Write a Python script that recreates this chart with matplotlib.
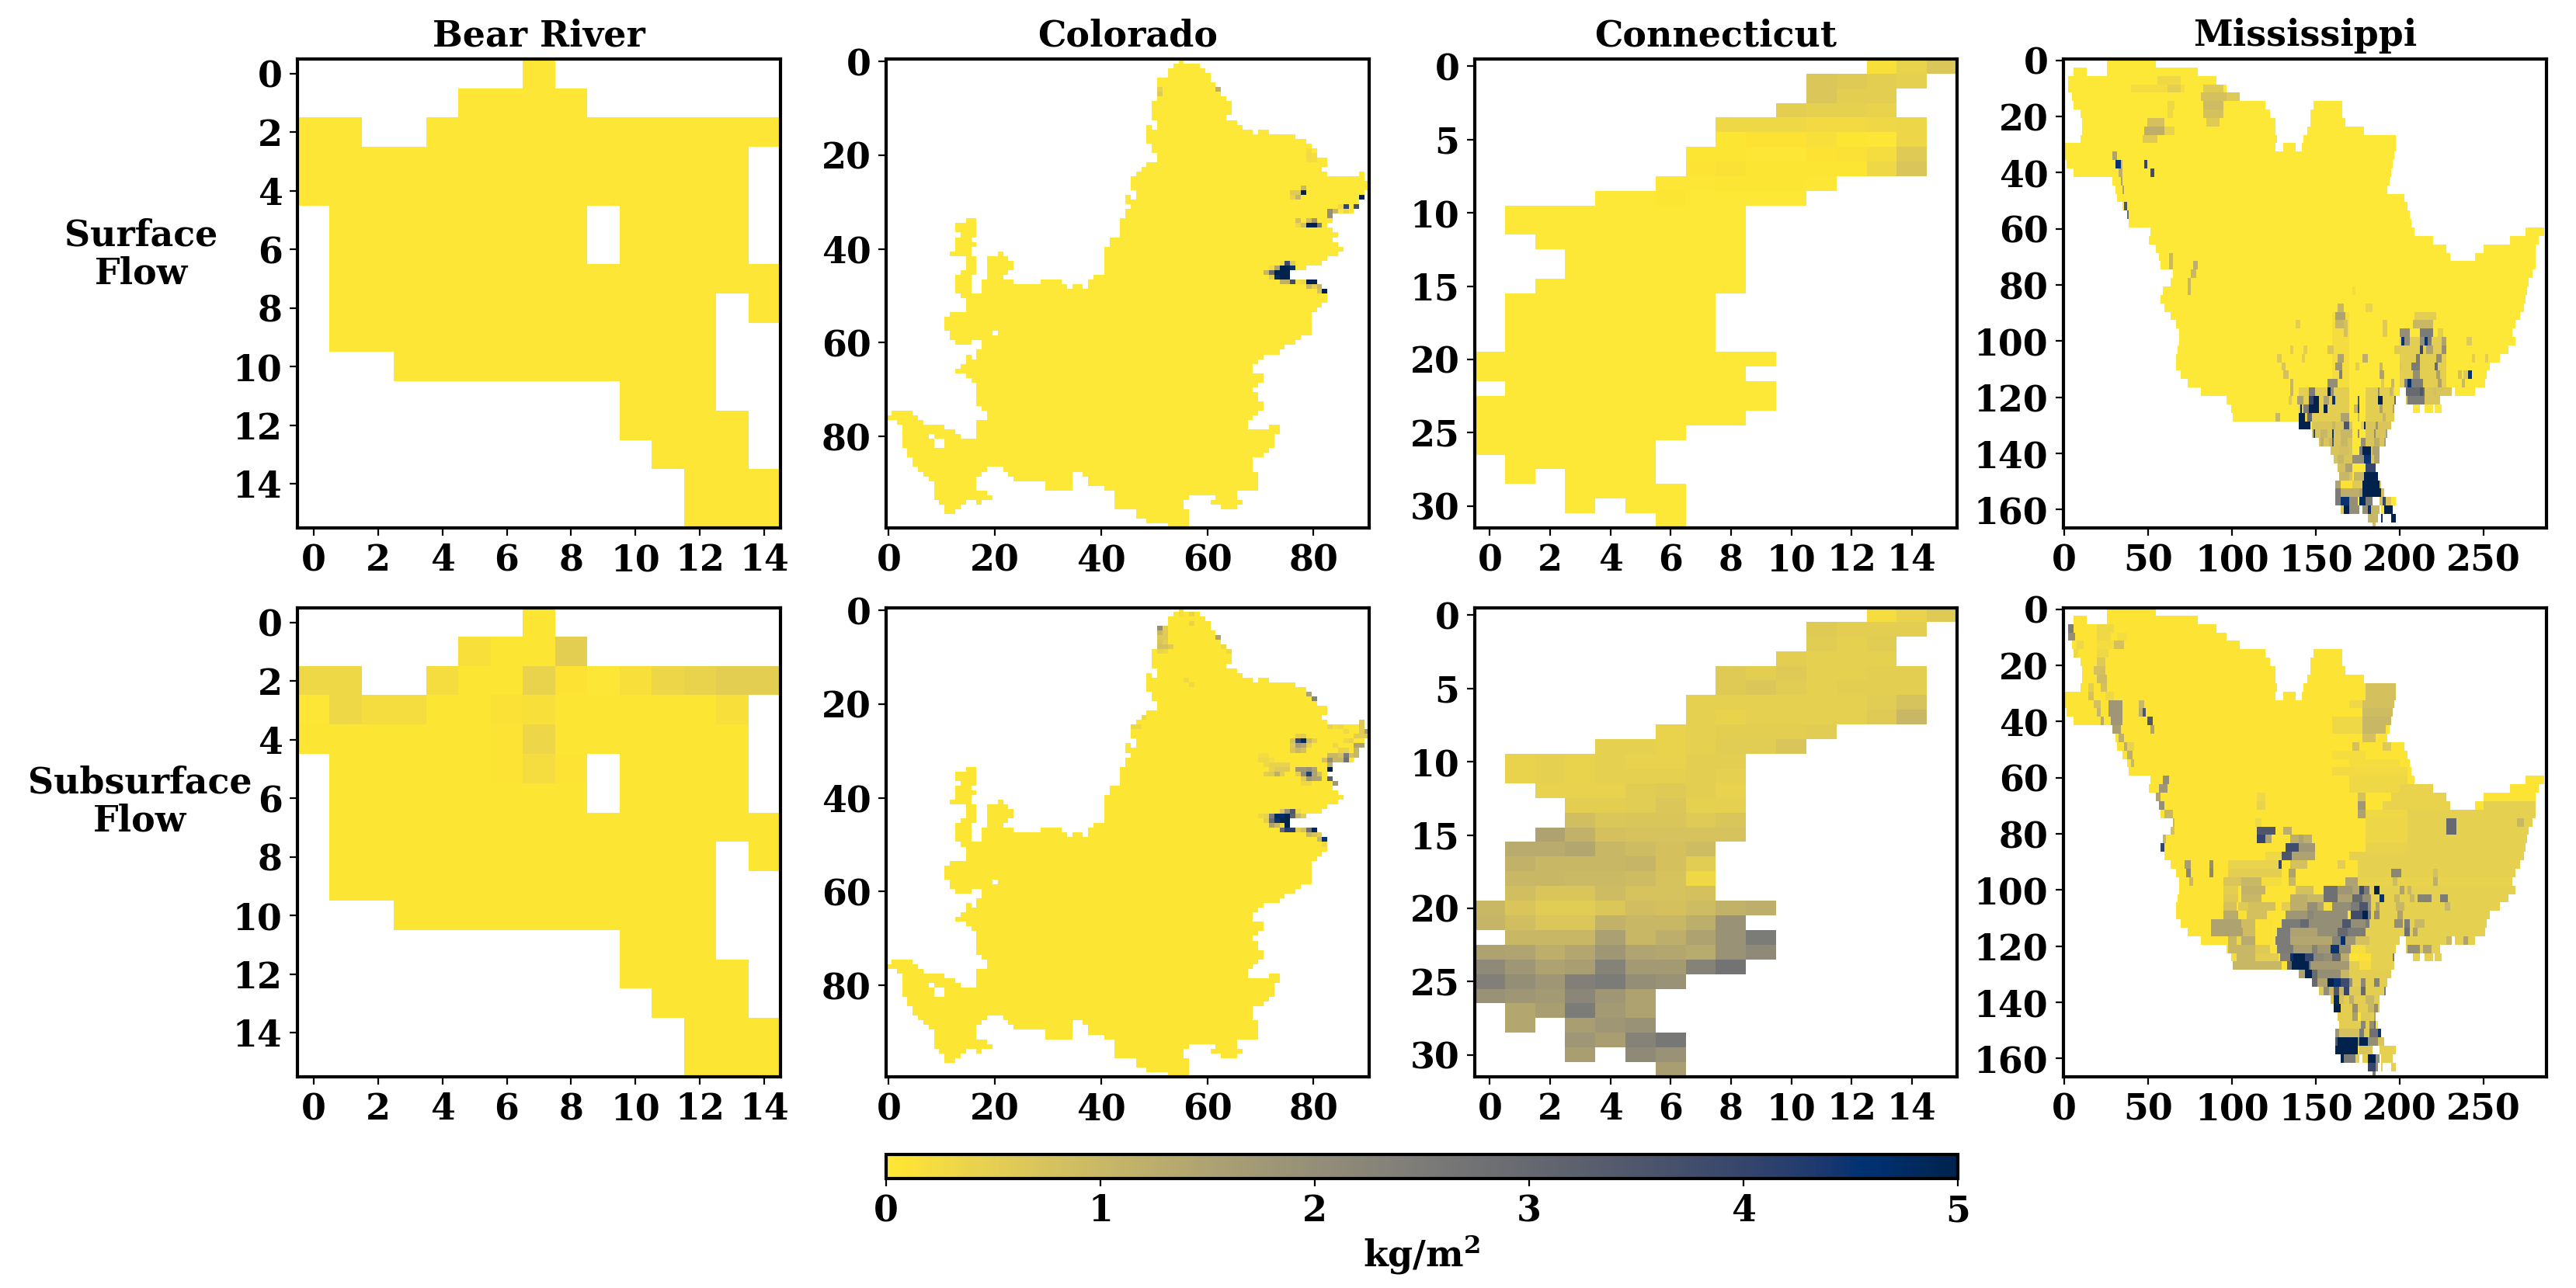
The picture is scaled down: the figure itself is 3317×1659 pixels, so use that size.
import numpy as np
import matplotlib
matplotlib.use("Agg")
import matplotlib.pyplot as plt

plt.rcParams['font.family'] = ['DejaVu Serif']
plt.rcParams['font.weight'] = 'bold'
plt.rcParams['mathtext.fontset'] = 'dejavuserif'

# --- Bear River (16 x 15): cells with data per row as (first col, end col)
BEAR_RUNS = [
    [(7, 8)], [(5, 9)], [(0, 2), (4, 15)], [(0, 14)], [(0, 14)],
    [(1, 9), (10, 14)], [(1, 9), (10, 14)], [(1, 15)],
    [(1, 13), (14, 15)], [(1, 13)], [(3, 13)], [(10, 13)],
    [(10, 14)], [(11, 14)], [(12, 15)], [(12, 15)],
]
# (row, col, value)
BEAR_SUB_CELLS = [
    (1, 5, .15), (1, 6, .05), (1, 7, .05), (1, 8, .5),
    (2, 0, .3), (2, 1, .3), (2, 4, .2), (2, 5, .05), (2, 6, .05), (2, 7, .4), (2, 8, .08),
    (2, 9, .02), (2, 10, .15), (2, 11, .35), (2, 12, .4), (2, 13, .5), (2, 14, .5),
    (3, 0, .03), (3, 1, .3), (3, 2, .2), (3, 3, .2), (3, 4, .05), (3, 5, .05), (3, 6, .1),
    (3, 7, .15), (3, 8, .05), (3, 12, .05), (3, 13, .15),
    (4, 6, .06), (4, 7, .35), (4, 8, .05), (5, 6, .06), (5, 7, .2), (5, 8, .07),
]

# --- Colorado (100 x 91)
COLORADO_RUNS = [
    [(55, 56)], [(54, 59)], [(53, 60)], [(53, 61)], [(51, 61)], [(51, 62)], [(51, 63)], [(51, 63)],
    [(51, 64)], [(50, 65)], [(50, 65)], [(50, 65)], [(50, 64)], [(51, 66)],
    [(49, 50), (51, 67)], [(49, 69), (70, 72)], [(49, 77)], [(49, 79)], [(50, 80)], [(50, 81)],
    [(51, 81)], [(51, 83)], [(49, 83)], [(48, 82)], [(47, 83), (89, 90)], [(46, 90)], [(46, 91)],
    [(46, 91)], [(47, 90)], [(45, 46), (47, 90)], [(45, 89)], [(46, 89)], [(45, 88)], [(45, 84)],
    [(15, 17), (44, 84)], [(13, 17), (44, 83)], [(13, 17), (44, 84)], [(14, 17), (44, 85)],
    [(13, 16), (42, 84)], [(13, 17), (42, 85)], [(13, 16), (41, 86)],
    [(12, 16), (21, 22), (41, 85)], [(15, 17), (19, 23), (41, 83)], [(15, 17), (19, 24), (41, 82)],
    [(15, 17), (19, 24), (41, 79)], [(14, 17), (19, 23), (41, 76)], [(13, 16), (19, 22), (39, 76)],
    [(13, 16), (18, 24), (29, 32), (32, 33), (38, 81)], [(13, 16), (18, 34), (35, 37), (38, 82)],
    [(13, 16), (18, 83)], [(14, 83)], [(15, 83)], [(15, 82)], [(15, 81)], [(12, 80)], [(11, 80)],
    [(11, 80)], [(11, 80)], [(12, 20), (21, 80)], [(12, 78)], [(13, 16), (18, 77)], [(18, 75)],
    [(17, 74)], [(15, 16), (17, 71)], [(15, 70)], [(14, 69)], [(13, 69)], [(15, 71)], [(16, 71)],
    [(17, 70)], [(17, 69)], [(17, 70)], [(17, 70)], [(17, 71)], [(18, 71)],
    [(1, 5), (19, 70)], [(0, 6), (19, 69)], [(2, 7), (17, 68)], [(3, 11), (17, 68), (72, 74)],
    [(3, 13), (17, 74)], [(3, 8), (9, 14), (17, 73)], [(3, 9), (11, 73)], [(3, 9), (11, 73)],
    [(4, 72)], [(4, 71)], [(5, 69)], [(5, 69)], [(6, 19), (22, 69)],
    [(7, 18), (23, 35), (37, 70)], [(8, 17), (24, 35), (38, 70)], [(9, 17), (30, 35), (38, 70)],
    [(9, 17), (30, 35), (41, 70)], [(9, 19), (43, 66)], [(9, 20), (43, 57), (62, 66)],
    [(10, 15), (17, 18), (43, 56), (61, 67)], [(11, 14), (43, 56), (63, 66)],
    [(11, 13), (47, 57)], [(47, 57)], [(49, 57)], [(53, 57)],
]
COLORADO_SURF_CELLS = [
    (6, 51, .4), (7, 51, .6), (6, 62, 1.2),
    (19, 79, .2), (20, 79, .25), (20, 80, .2), (21, 79, .2), (21, 80, .2),
    (27, 78, 1.), (28, 76, .6), (28, 77, .6), (28, 78, 5.), (29, 76, .4), (29, 77, 1.), (29, 89, 5.),
    (31, 86, 4.), (31, 88, 3.8), (31, 85, .3), (32, 83, 2.), (32, 84, 1.), (32, 86, .3), (33, 83, 2.),
    (34, 77, .8), (34, 79, .8), (34, 80, 1.8), (35, 77, .3), (35, 78, .8), (35, 79, 5.), (35, 80, 5.),
    (35, 81, 2.5), (43, 74, .2), (43, 75, 3.8), (43, 76, .6),
    (44, 72, .2), (44, 73, 1.5), (44, 74, 5.), (44, 75, 5.), (44, 76, 4.5),
    (45, 71, 1.), (45, 72, 3.), (45, 73, 5.), (45, 74, 5.), (45, 75, 5.),
    (46, 72, .5), (46, 73, 4.7), (46, 74, 5.), (46, 75, 5.),
    (47, 74, 1.2), (47, 75, 1.2), (47, 76, 3.8), (47, 77, .2), (47, 78, .3), (47, 79, 5.), (47, 80, 5.),
    (48, 79, 1.), (48, 80, .5), (48, 81, 1.), (49, 81, .8), (49, 82, 5.),
]
COLORADO_SUB_CELLS = [
    (1, 55, .2), (1, 57, .4), (3, 57, .4), (4, 51, 2.), (4, 52, .5), (5, 51, 1.), (5, 52, .6),
    (6, 51, .6), (6, 52, .6), (6, 62, 1.5), (7, 51, .7), (7, 52, .5),
    (8, 51, .8), (8, 52, .8), (8, 53, .6), (8, 63, .3), (9, 51, .4), (9, 52, .3), (9, 64, .3),
    (15, 56, .3), (16, 57, .3), (18, 79, 1.5), (19, 80, 2.3), (21, 83, 2.5), (22, 83, 1.8), (22, 48, .3),
    (23, 47, .3), (23, 48, .3), (24, 83, 3.), (24, 89, .6), (24, 46, .3), (25, 46, .3), (25, 47, .3),
    (25, 83, .4), (25, 84, .2), (25, 85, .3), (25, 89, .6), (26, 89, .6), (26, 90, 1.5), (26, 86, .3),
    (27, 88, .5), (27, 89, .5), (27, 90, .6), (27, 77, .5), (27, 78, .6),
    (28, 76, .8), (28, 77, 4.), (28, 78, 4.8), (28, 79, 1.), (28, 80, .5), (28, 86, .3), (28, 87, .4),
    (29, 76, .6), (29, 77, 1.6), (29, 78, 1.4), (29, 79, .4), (29, 84, .3), (29, 88, 1.5), (29, 89, 1.5),
    (30, 76, .7), (30, 77, 1.), (30, 78, .8), (30, 85, .4), (30, 86, .4), (30, 88, 1.), (30, 89, .6),
    (31, 70, .2), (31, 71, .2), (31, 83, 1.), (31, 84, 1.), (31, 85, .8), (31, 86, 2.5), (31, 87, .8), (31, 88, 1.),
    (32, 70, .3), (32, 71, .3), (32, 72, .2), (32, 82, .8), (32, 83, 2.), (32, 84, 1.), (32, 85, 1.), (32, 86, 2.8),
    (33, 71, .3), (33, 72, .4), (33, 73, .4), (33, 74, .4), (33, 75, .4), (33, 83, 1.2),
    (34, 72, .4), (34, 73, .6), (34, 74, .6), (34, 75, .6), (34, 77, 1.8), (34, 78, 1.8), (34, 79, 2.), (34, 80, 1.5), (34, 83, 5.),
    (35, 71, .5), (35, 72, .6), (35, 73, 1.2), (35, 74, .5), (35, 77, .5), (35, 78, 2.), (35, 79, 4.2), (35, 80, 1.5), (35, 81, .8),
    (36, 78, .6), (36, 79, 1.8), (36, 80, 1.5), (36, 81, 1.5), (36, 83, 3.3), (37, 78, .3), (37, 79, .3), (37, 84, 1.8),
    (43, 74, .8), (43, 75, 2.), (43, 76, 3.5), (43, 77, .3),
    (44, 70, .3), (44, 71, .4), (44, 72, 2.5), (44, 73, 4.7), (44, 74, 4.7), (44, 75, 5.), (44, 76, 3.2), (44, 77, 1.), (44, 78, .5),
    (45, 71, .5), (45, 72, 3.), (45, 73, 4.5), (45, 74, 5.), (45, 75, 5.),
    (46, 72, 1.5), (46, 73, 1.), (46, 74, .3), (46, 75, 5.),
    (47, 74, 3.), (47, 75, 4.2), (47, 76, 4.2), (47, 77, .5), (47, 78, .8), (47, 79, 2.8), (47, 80, 4.8),
    (48, 79, 1.), (48, 80, .8), (48, 81, .5), (49, 81, 1.), (49, 82, 4.5), (50, 82, .3),
]

# --- Connecticut (32 x 16): per row (first col, values)
CT_SUB_ROWS = [
    [(13, [.2, .4, .6])],
    [(11, [.6, .5, .5, .5])],
    [(11, [.55, .45, .55])],
    [(10, [.5, .45, .45, .45])],
    [(8, [.6, .5, .6, .45, .45, .5, .5])],
    [(8, [.6, .65, .55, .45, .5, .5, .5])],
    [(7, [.45, .45, .45, .45, .45, .45, .55, .75])],
    [(7, [.45, .4, .45, .45, .45, .45, .6, 1.])],
    [(6, [.4, .45, .5, .5, .5, .55])],
    [(4, [.45, .45, .4, .45, .55, .55, .7])],
    [(1, [.4, .45, .4, .45, .42, .42, .5, .5])],
    [(1, [.4, .45, .4, .45, .45, .45, .5, .45])],
    [(2, [.42, .42, .42, .55, .6, .5, .42])],
    [(3, [.5, .5, .55, .65, .45, .45])],
    [(3, [.85, .65, .7, .7, .6, .7])],
    [(2, [1.5, 1.15, .8, .75, .75, .75, .75])],
    [(1, [1.3, 1.3, 1.4, 1., .9, .8, .9])],
    [(1, [1.15, 1., 1., 1., 1.05, .8, .55])],
    [(1, [1., 1., .95, .95, .9, .75, .3])],
    [(1, [.85, .7, .7, .9, .75, .75, .8])],
    [(0, [1., .7, .55, .55, .65, .85, .8, .9, 1.15, 1.2])],
    [(0, [1.05, .85, .65, .65, 1.15, 1., 1., 1.2, 1.9])],
    [(1, [1., 1., 1., 1.55, 1., 1.2, 1.5, 1.9, 2.5])],
    [(0, [1.5, 1.45, 1.2, 1.4, 1.8, 1.45, 1.4, 1.3, 1.9, 2.1])],
    [(0, [2.1, 1.8, 1.5, 1.6, 2.3, 1.7, 1.7, 2.3, 2.7])],
    [(0, [2.4, 2., 1.8, 2.4, 2.5, 2., 1.9])],
    [(0, [1.9, 1.8, 1.7, 2.2, 1.8, 1.5])],
    [(1, [1.4, 1.6, 2.5, 1.7, 1.5])],
    [(1, [1.4]), (3, [1.6, 1.8, 1.9])],
    [(3, [1.8, 1.6, 2.3, 2.6])],
    [(3, [1.6]), (5, [2.1, 1.9])],
    [(6, [1.6])],
]
CT_SURF_ROWS = [
    [(13, [.15, .4, .65])],
    [(11, [.65, .6, .5, .45])],
    [(11, [.65, .5, .5])],
    [(10, [.5, .45, .45, .4])],
    [(8, [.3, .3, .3, .25, .25, .3, .35])],
    [(8, [.05, .08, .08, .15, .05, .03, .35])],
    [(7, [.05, .05, .02, .02, .08, .1, .2, .6])],
    [(7, [.07, .1, .04, .04, .04, .05, .3, .7])],
    [(6, [.02, .02, .05, .05, .05, .02])],
    [(4, [.01, .01, .04, .01, .01, .01, .01])],
]

# --- Mississippi (167 x 288), read in bands of three rows: (first col, end col)
MS_BAND = 3
MS_OUTLINE = [
    [(26, 55)], [(6, 14), (26, 80)], [(3, 91)], [(3, 97)], [(5, 105)], [(6, 120), (149, 166)],
    [(10, 123), (147, 166)], [(11, 126), (147, 168)], [(11, 126), (145, 179)], [(10, 127), (143, 198)],
    [(0, 126), (131, 138), (142, 198)], [(0, 197)], [(2, 196)], [(6, 195)], [(29, 194)], [(31, 193)],
    [(32, 203)], [(35, 205)], [(38, 206)], [(39, 207)], [(52, 209), (275, 286)], [(51, 220), (266, 283)],
    [(55, 228), (250, 281)], [(57, 230), (245, 281)], [(58, 281)], [(65, 279)], [(64, 277)], [(59, 276)],
    [(58, 275)], [(60, 274)], [(64, 272)], [(67, 269)], [(69, 267)], [(69, 269)], [(68, 265)], [(67, 260)],
    [(67, 254)], [(70, 252)], [(74, 251)], [(82, 200), (204, 231), (233, 245)], [(97, 198), (204, 224)],
    [(100, 197), (208, 212), (215, 220), (221, 225)], [(101, 197)], [(140, 195)], [(148, 193)], [(152, 192)],
    [(159, 188)], [(161, 188)], [(163, 186)], [(164, 187)], [(162, 189)], [(162, 191)],
    [(162, 184), (188, 198)], [(165, 176), (178, 188), (189, 196)], [(181, 187), (189, 190), (195, 198)], [(184, 186)],
]
# wide faint areas under the surface patches: (first band, end band, first col, end col, value)
MS_SURF_UNDER = [
    (30, 39, 160, 170, .2), (33, 39, 200, 228, .5), (39, 43, 140, 170, .5), (39, 43, 180, 197, .5),
    (39, 41, 204, 231, .7), (43, 53, 148, 172, .7), (43, 53, 180, 195, .7),
]
# value patches per band: band -> (first col, end col, value), later ones drawn over earlier ones
MS_SURF_PATCHES = {
    2: [(56, 70, .3)],
    3: [(40, 72, .2), (62, 70, .5), (83, 95, .6)],
    4: [(82, 97, .8), (97, 105, .6)],
    5: [(83, 95, .9), (62, 66, .3)],
    6: [(83, 95, .8), (62, 65, .3)],
    7: [(50, 60, .8), (85, 93, .6)],
    8: [(48, 60, 1.2), (60, 66, .4)],
    9: [(47, 56, .6)],
    11: [(29, 32, 1.5)],
    12: [(31, 34, 4.5), (34, 35, 1.), (48, 50, 4.)],
    13: [(33, 35, 1.2), (52, 54, 3.8)],
    14: [(34, 35, 1.5)],
    15: [(35, 36, 1.5)],
    17: [(36, 38, 3.5)],
    18: [(37, 39, 3.)],
    23: [(63, 65, 1.)],
    24: [(77, 80, 1.2), (63, 65, 1.)],
    25: [(76, 79, 1.)],
    26: [(74, 76, 1.)],
    27: [(74, 76, 1.), (172, 174, .2)],
    29: [(163, 167, 1.), (180, 184, .4)],
    30: [(162, 168, 1.5), (209, 222, .5)],
    31: [(162, 167, 1.), (190, 193, .6), (138, 141, .5), (208, 220, 1.), (167, 169, .8)],
    32: [(200, 206, 2.), (212, 220, 2.5), (190, 193, .6), (167, 169, .8), (223, 226, .5)],
    33: [(201, 203, 4.5), (215, 217, 4.5), (203, 206, 2.), (212, 215, 2.), (217, 219, 2.5), (225, 228, 1.5), (240, 243, .6)],
    34: [(212, 214, 4.), (216, 220, 1.5), (225, 228, 2.), (197, 200, .6), (157, 161, .7), (143, 145, .5), (135, 137, .5)],
    35: [(210, 212, 2.5), (222, 225, 2.), (178, 181, 1.2), (163, 167, 1.5), (127, 130, .6), (142, 144, .5), (243, 245, .5), (251, 253, .5)],
    36: [(207, 212, 2.5), (221, 223, 3.), (162, 166, 1.8), (188, 190, 1.), (174, 176, .5), (130, 132, .7), (200, 202, .6)],
    37: [(208, 212, 2.), (222, 224, 1.5), (164, 166, 2.4), (188, 191, 1.5), (131, 134, .8), (235, 237, .8), (241, 243, 4.5), (238, 241, .6)],
    38: [(203, 214, 2.5), (205, 207, 4.7), (195, 197, 1.), (157, 163, 2.), (223, 225, 1.5), (237, 239, 1.), (189, 191, .6), (135, 137, 1.)],
    39: [(204, 215, 3.), (146, 150, 2.5), (157, 159, 5.), (159, 161, 2.), (187, 188, 2.), (194, 196, 1.), (135, 137, 1.), (220, 222, .8), (212, 214, 3.5)],
    40: [(146, 149, 4.), (149, 152, 5.), (160, 162, 4.5), (155, 158, 1.5), (139, 143, 1.5), (175, 176, 3.5), (187, 190, 5.), (205, 215, 2.5), (197, 200, 3.), (134, 136, .6)],
    41: [(146, 152, 5.), (155, 157, 5.), (141, 142, 5.), (143, 146, 2.5), (175, 176, 4.), (198, 199, 4.5), (196, 198, 1.5), (188, 190, 1.5), (173, 175, 1.)],
    42: [(140, 144, 5.), (145, 148, 3.), (197, 198, 2.2), (165, 170, 1.5), (175, 176, 1.), (190, 192, 1.), (126, 129, 1.)],
    43: [(140, 147, 5.), (167, 170, 3.5), (179, 180, 4.5), (177, 179, .5), (186, 187, 1.8), (160, 162, 1.)],
    44: [(142, 144, 3.), (149, 150, 4.), (153, 157, 1.), (160, 161, 4.5), (165, 172, 1.), (175, 176, 2.), (185, 186, 2.), (192, 193, 1.5)],
    45: [(153, 155, 1.2), (158, 160, 1.), (160, 161, 3.5), (165, 169, 1.), (185, 188, 1.2), (191, 193, 1.5), (177, 180, 2.)],
    46: [(164, 170, .8), (176, 178, 2.5), (178, 183, 5.), (184, 188, 1.5)],
    47: [(163, 167, 1.), (172, 175, 2.), (175, 179, 2.), (179, 183, 4.5), (185, 188, 1.5)],
    48: [(163, 168, .8), (168, 172, 1.5), (180, 186, 4.)],
    49: [(164, 170, 1.), (173, 179, 1.), (179, 187, 5.)],
    50: [(162, 165, 1.5), (178, 188, 5.), (165, 172, .1), (172, 178, .6)],
    51: [(162, 165, 2.5), (165, 176, 1.2), (176, 178, 1.5), (178, 189, 5.), (189, 191, .8)],
    52: [(162, 165, 2.5), (165, 170, 4.5), (170, 175, 2.), (176, 180, 4.8), (180, 184, 2.5), (190, 192, 4.), (188, 190, .8)],
    53: [(165, 167, .6), (167, 170, 5.), (170, 176, 2.), (178, 181, 2.), (181, 183, 4.5), (183, 188, 1.), (191, 196, 5.)],
    54: [(181, 187, 1.), (189, 190, 4.5), (195, 198, 5.)],
    55: [(184, 186, .8)],
}
MS_SUB_PATCHES = {
    2: [(3, 6, 2.5), (20, 30, .3)],
    3: [(3, 7, 2.), (20, 28, .3), (32, 38, .2)],
    4: [(8, 12, .3), (20, 30, .2), (30, 36, .8)],
    5: [(6, 9, .3), (20, 27, .3)],
    6: [(20, 25, .6)],
    7: [(18, 25, .8)],
    8: [(20, 26, .9)],
    9: [(15, 18, .5), (22, 26, .8), (180, 198, .8)],
    10: [(15, 18, .8), (25, 30, .3), (180, 198, .8)],
    11: [(18, 22, .8), (27, 35, 1.8), (45, 48, 1.), (170, 178, .3), (178, 197, .8)],
    12: [(20, 22, 1.), (27, 35, 1.8), (45, 47, 1.2), (47, 49, 3.5), (178, 197, .9)],
    13: [(22, 24, 1.3), (28, 35, 1.8), (50, 53, 3.5), (160, 178, .3), (178, 196, 1.)],
    14: [(29, 34, 1.6), (52, 54, 1.5), (160, 178, .3), (178, 192, 1.)],
    15: [(33, 36, 1.2), (178, 186, .8), (188, 192, .1)],
    16: [(36, 38, 1.2), (38, 42, .4), (172, 176, .8), (190, 195, .6)],
    17: [(38, 41, 1.2), (160, 180, .2)],
    18: [(40, 42, 1.), (170, 200, .2)],
    19: [(160, 205, .25)],
    20: [(59, 63, 2.), (170, 205, .3)],
    21: [(57, 62, 1.8), (170, 200, .3), (200, 220, .4)],
    22: [(55, 58, 1.5), (115, 120, .3), (175, 180, .8), (195, 228, .4)],
    23: [(57, 60, 2.), (115, 120, .4), (175, 180, 1.8), (190, 230, .4), (250, 281, .45)],
    24: [(60, 65, 1.), (175, 180, 1.5), (180, 205, .3), (205, 285, .45)],
    25: [(64, 66, 1.), (114, 118, .3), (180, 205, .35), (205, 285, .45), (228, 234, 3.), (270, 274, 1.)],
    26: [(64, 66, .8), (115, 126, 3.5), (131, 136, 1.2), (180, 205, .35), (205, 285, .45), (228, 234, 3.)],
    27: [(59, 61, 1.), (115, 120, 4.), (120, 124, 1.5), (135, 148, 1.2), (140, 143, 1.5), (180, 205, .35), (205, 285, .45)],
    28: [(58, 60, 4.), (132, 140, 3.8), (140, 150, 1.8), (180, 205, .4), (205, 285, .45)],
    29: [(59, 60, 4.5), (120, 130, .3), (130, 136, 3.5), (136, 150, 1.5), (170, 285, .45)],
    30: [(72, 76, 1.6), (87, 89, 2.), (98, 130, .4), (128, 130, 4.), (135, 145, .8), (163, 168, .5), (175, 285, .45)],
    31: [(73, 76, 2.2), (87, 89, 2.2), (98, 130, .5), (134, 138, 1.5), (175, 285, .45), (195, 201, 2.2), (220, 223, .8)],
    32: [(75, 77, 1.), (95, 106, .7), (106, 118, 1.), (118, 130, .2), (134, 138, 1.), (168, 175, 1.5), (175, 285, .4), (196, 199, .9), (220, 223, 1.2)],
    33: [(95, 104, .5), (106, 120, 1.1), (138, 149, .8), (155, 163, 2.8), (163, 172, 1.8), (172, 176, 1.5), (176, 179, 3.8), (179, 182, 2.5), (182, 285, .45), (185, 188, 5.), (200, 203, 1.5), (205, 207, 1.)],
    34: [(95, 104, .6), (106, 118, 1.), (135, 145, 1.2), (145, 155, 1.), (155, 163, 2.8), (163, 172, 1.5), (172, 178, 3.), (178, 183, 2.), (183, 285, .45), (188, 191, 4.5), (197, 200, 1.), (206, 209, 1.), (211, 219, 2.3), (224, 229, 2.5)],
    35: [(95, 103, .8), (104, 110, .6), (110, 126, .8), (130, 135, .5), (135, 145, 1.2), (145, 151, 2.), (151, 155, 1.5), (155, 160, .2), (160, 171, 2.), (171, 176, 2.5), (176, 181, 3.5), (181, 183, 2.), (183, 285, .45), (186, 188, 1.5), (198, 203, 1.), (227, 230, 1.)],
    36: [(95, 104, 1.3), (104, 109, .1), (109, 121, .8), (132, 145, 1.8), (145, 149, 2.2), (149, 169, 2.), (171, 178, 3.8), (178, 181, 5.), (181, 183, 2.5), (183, 285, .45), (185, 188, 2.), (199, 202, 1.5)],
    37: [(88, 106, 1.5), (106, 114, .9), (116, 125, .1), (130, 141, 2.5), (141, 146, 3.), (146, 166, 2.), (166, 171, 3.5), (171, 180, 2.), (180, 182, 2.5), (182, 285, .45), (197, 202, 2.), (203, 206, 2.5), (209, 215, 1.)],
    38: [(88, 107, 1.5), (107, 114, .9), (114, 124, .1), (127, 135, 2.5), (135, 151, 1.5), (151, 163, 2.), (163, 169, 3.), (169, 180, 2.5), (180, 285, .45), (203, 206, 2.8), (208, 211, 1.5)],
    39: [(98, 103, 1.), (103, 106, .3), (106, 114, 1.3), (114, 124, .1), (126, 135, 2.5), (135, 160, 1.4), (160, 165, 2.3), (165, 168, 4.6), (168, 174, 1.8), (174, 182, .8), (182, 285, .45), (228, 231, 1.), (238, 241, 1.5)],
    40: [(98, 114, 1.), (114, 123, .6), (127, 137, 2.5), (137, 148, 1.6), (148, 151, 2.3), (151, 159, 1.8), (159, 164, 4.5), (164, 171, 2.), (171, 180, .2), (180, 285, .45), (198, 203, 2.), (205, 212, 2.), (214, 219, 1.5)],
    41: [(98, 103, .2), (103, 114, 1.), (114, 128, .5), (129, 135, 2.4), (135, 137, 4.5), (137, 144, 5.), (144, 149, 4.), (149, 155, 2.2), (155, 160, 2.), (160, 165, 3.), (165, 170, 1.3), (175, 183, .1), (183, 285, .45), (196, 198, 2.5)],
    42: [(101, 130, 1.), (133, 136, 3.), (136, 146, 5.), (146, 147, 3.), (147, 170, 1.7), (170, 176, .5), (176, 183, .2), (183, 285, .45)],
    43: [(140, 144, 1.5), (144, 148, 5.), (148, 151, 3.), (151, 165, 2.), (165, 170, 1.), (170, 285, .5)],
    44: [(146, 151, 3.), (151, 157, 1.5), (157, 161, 5.), (161, 165, 4.5), (165, 170, 3.8), (170, 172, 2.), (172, 177, .5), (177, 180, 2.2), (180, 285, .5), (185, 188, 2.3)],
    45: [(152, 155, .6), (155, 158, 2.), (158, 161, 1.), (161, 164, 3.5), (164, 167, 1.), (167, 170, 4.), (170, 177, .6), (177, 180, 3.), (180, 285, .5), (191, 193, 2.5)],
    46: [(159, 161, .6), (161, 164, 4.8), (164, 167, .8), (167, 170, .5), (170, 173, 1.2), (173, 180, .5), (180, 185, 1.), (185, 285, .5)],
    47: [(161, 165, 5.), (165, 172, .5), (172, 175, 2.), (175, 181, .5), (181, 185, 1.), (185, 187, 2.), (187, 285, .5)],
    48: [(163, 172, .5), (172, 175, 1.6), (177, 183, .6), (183, 285, .5), (185, 186, 1.5)],
    49: [(164, 177, .5), (177, 180, 2.2), (180, 182, .5), (182, 185, 2.), (185, 186, 3.)],
    50: [(162, 164, 1.8), (164, 176, .8), (176, 179, 2.5), (179, 182, .6), (182, 187, 2.8), (187, 189, 4.5)],
    51: [(162, 163, 3.5), (163, 170, 5.), (170, 175, 5.), (175, 176, 2.), (176, 181, 5.), (181, 187, 2.), (187, 191, .7)],
    52: [(162, 171, 5.), (171, 175, 5.), (176, 184, .7), (184, 188, 3.5), (188, 198, .45)],
    53: [(165, 167, 5.), (167, 174, 2.5), (174, 176, .5), (178, 181, .5), (181, 186, 5.), (186, 188, 2.), (189, 196, .45)],
    54: [(181, 186, 4.), (186, 187, 2.), (189, 190, .45), (195, 198, .45)],
    55: [(184, 186, 2.5)],
}

TITLES = ["Bear River", "Colorado", "Connecticut", "Mississippi"]
COL_LABELS_X = [list(range(0, 15, 2)), list(range(0, 81, 20)), list(range(0, 15, 2)), list(range(0, 251, 50))]
COL_LABELS_Y = [list(range(0, 15, 2)), list(range(0, 81, 20)), list(range(0, 31, 5)), list(range(0, 161, 20))]
CBAR_TICKS = [0, 1, 2, 3, 4, 5]


def from_runs(shape, runs, base):
    grid = np.full(shape, np.nan)
    for r, row_runs in enumerate(runs):
        for c0, c1 in row_runs:
            grid[r, c0:c1] = base
    return grid


def put_cells(grid, cells):
    for r, c, v in cells:
        if not np.isnan(grid[r, c]):
            grid[r, c] = v
    return grid


def ct_grid(rows, base=None):
    grid = np.full((32, 16), np.nan) if base is None else base
    for r, row in enumerate(rows):
        for c0, vals in row:
            grid[r, c0:c0 + len(vals)] = vals
    return grid


def ms_grid(base, patches, under=()):
    grid = np.full((167, 288), np.nan)
    for b, row_runs in enumerate(MS_OUTLINE):
        r0, r1 = b * MS_BAND, min((b + 1) * MS_BAND, 167)
        mask = np.zeros(288, dtype=bool)
        for c0, c1 in row_runs:
            mask[c0:c1] = True
        row = np.full(288, base)
        for b0, b1, c0, c1, v in under:
            if b0 <= b < b1:
                row[c0:c1] = v
        for c0, c1, v in patches.get(b, []):
            row[c0:c1] = v
        row[~mask] = np.nan
        grid[r0:r1] = row
    return grid


bear_surf = from_runs((16, 15), BEAR_RUNS, .02)
bear_sub = put_cells(from_runs((16, 15), BEAR_RUNS, .04), BEAR_SUB_CELLS)
co_surf = put_cells(from_runs((100, 91), COLORADO_RUNS, .01), COLORADO_SURF_CELLS)
co_sub = put_cells(from_runs((100, 91), COLORADO_RUNS, .04), COLORADO_SUB_CELLS)
ct_sub = ct_grid(CT_SUB_ROWS)
ct_surf = ct_grid(CT_SURF_ROWS, np.where(np.isnan(ct_sub), np.nan, .01))
ms_surf = ms_grid(.01, MS_SURF_PATCHES, MS_SURF_UNDER)
ms_sub = ms_grid(.06, MS_SUB_PATCHES)

panels = [[bear_surf, co_surf, ct_surf, ms_surf], [bear_sub, co_sub, ct_sub, ms_sub]]

W, H = 3317, 1659
fig = plt.figure(figsize=(W / 200, H / 200), dpi=200)

col_px = [(383, 1005), (1141, 1763), (1899, 2520), (2657, 3279)]
row_px = [(76, 680), (783, 1387)]
fs = 16.5

for i in range(2):
    for j in range(4):
        x0, x1 = col_px[j]
        y0, y1 = row_px[i]
        ax = fig.add_axes([x0 / W, 1 - y1 / H, (x1 - x0) / W, (y1 - y0) / H])
        im = ax.imshow(panels[i][j], cmap='cividis_r', vmin=0, vmax=5, aspect='auto', interpolation='nearest')
        ax.set_xticks(COL_LABELS_X[j])
        ax.set_yticks(COL_LABELS_Y[j])
        ax.tick_params(labelsize=fs, length=3.5, width=0.8)
        for s in ax.spines.values():
            s.set_linewidth(1.5)
        if i == 0:
            ax.set_title(TITLES[j], fontsize=fs, fontweight='bold', pad=6)

fig.text(182 / W, 1 - 328 / H, "Surface\nFlow", ha='center', va='center', fontsize=fs, fontweight='bold', linespacing=1.1)
fig.text(180 / W, 1 - 1033 / H, "Subsurface\nFlow", ha='center', va='center', fontsize=fs, fontweight='bold', linespacing=1.1)

cax = fig.add_axes([1141 / W, 1 - 1518 / H, (2521 - 1141) / W, 31 / H])
cbar = fig.colorbar(im, cax=cax, orientation='horizontal', ticks=CBAR_TICKS)
cbar.ax.tick_params(labelsize=fs, length=3.5, width=0.8)
cbar.outline.set_linewidth(1.5)
cbar.set_label(r"kg/m$\mathbf{^2}$", fontsize=fs, fontweight='bold', labelpad=2)

fig.savefig("out.png", dpi=200)
